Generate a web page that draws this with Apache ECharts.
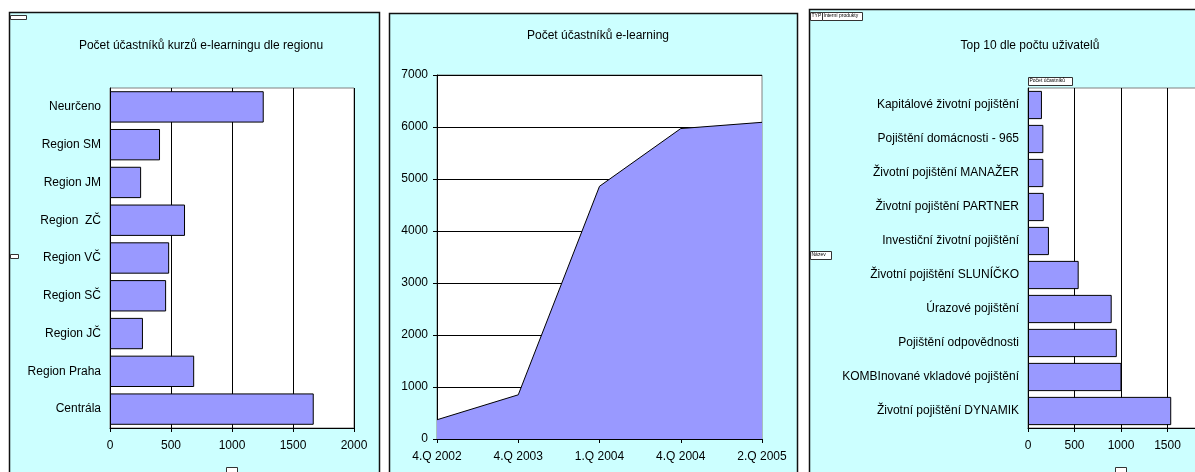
<!DOCTYPE html>
<html>
<head>
<meta charset="utf-8">
<script src="https://cdn.jsdelivr.net/npm/echarts@6/dist/echarts.min.js"></script>
<style>
  html, body { margin: 0; padding: 0; background: #ffffff; }
  #chart { width: 1195px; height: 472px; }
</style>
</head>
<body>
<div id="chart"></div>
<script>
// Participants of e-learning courses by region (top to bottom)
const regionCategories = ['Neurčeno', 'Region SM', 'Region JM', 'Region  ZČ', 'Region VČ', 'Region SČ', 'Region JČ', 'Region Praha', 'Centrála'];
const regionValues = [1260, 410, 255, 615, 485, 460, 270, 690, 1670];

// Cumulative e-learning participants per quarter
const quarterCategories = ['4.Q 2002', '4.Q 2003', '1.Q 2004', '4.Q 2004', '2.Q 2005'];
const quarterValues = [370, 850, 4860, 5970, 6090];

// Top 10 products by number of users (top to bottom)
const productCategories = [
  'Kapitálové životní pojištění',
  'Pojištění domácnosti - 965',
  'Životní pojištění MANAŽER',
  'Životní pojištění PARTNER',
  'Investiční životní pojištění',
  'Životní pojištění SLUNÍČKO',
  'Úrazové pojištění',
  'Pojištění odpovědnosti',
  'KOMBInované vkladové pojištění',
  'Životní pojištění DYNAMIK'
];
const productValues = [150, 165, 165, 170, 225, 545, 900, 955, 1005, 1540];

const FONT = "'Liberation Sans', Arial, sans-serif";
const BAR_FILL = '#9999FF';
const PANEL_FILL = '#CCFFFF';

const labelStyle = { color: '#000', fontFamily: FONT, fontSize: 12 };
const darkLine = { color: '#000', width: 1 };
const plainNumber = v => String(v);

function valueXAxis(gridIndex, max) {
  return {
    type: 'value', gridIndex, min: 0, max, interval: 500,
    axisLine: { show: true, lineStyle: darkLine },
    axisTick: { show: true, length: 4, inside: false, lineStyle: darkLine },
    splitLine: { show: true, lineStyle: { color: '#000', width: 1 } },
    axisLabel: Object.assign({ margin: 12, formatter: plainNumber }, labelStyle)
  };
}
function categoryYAxis(gridIndex, data) {
  return {
    type: 'category', gridIndex, data, inverse: true,
    axisLine: { show: true, lineStyle: darkLine },
    axisTick: { show: false },
    axisLabel: Object.assign({ margin: 9 }, labelStyle)
  };
}
function barSeries(axisIndex, data) {
  return {
    type: 'bar', xAxisIndex: axisIndex, yAxisIndex: axisIndex, data,
    barCategoryGap: '17%',
    itemStyle: { color: BAR_FILL, borderColor: '#000', borderWidth: 1 },
    silent: true
  };
}

// Small pivot-field buttons drawn on the panels
function fieldButton(x, y, w, h, text) {
  const children = [{
    type: 'rect', shape: { x: x + 0.5, y: y + 0.5, width: w, height: h },
    style: { fill: '#ffffff', stroke: '#333', lineWidth: 1 }
  }];
  if (text) {
    children.push({
      type: 'text', x: x + 1.5, y: y + 1.5,
      style: { text, fill: '#000', font: '5px ' + FONT, textVerticalAlign: 'top' }
    });
  }
  return { type: 'group', z: 50, children };
}

const gridBase = {
  show: true, backgroundColor: '#fff', borderColor: '#808080', borderWidth: 1,
  outerBoundsMode: 'none', containLabel: false
};

const option = {
  animation: false,
  backgroundColor: '#ffffff',
  textStyle: { fontFamily: FONT },
  title: [
    { text: 'Počet účastníků kurzů e-learningu dle regionu', left: 196, top: 35, textAlign: 'center',
      textStyle: { color: '#000', fontFamily: FONT, fontSize: 12, fontWeight: 'normal' } },
    { text: 'Počet účastníků e-learning', left: 593, top: 25, textAlign: 'center',
      textStyle: { color: '#000', fontFamily: FONT, fontSize: 12, fontWeight: 'normal' } },
    { text: 'Top 10 dle počtu uživatelů', left: 1025, top: 35, textAlign: 'center',
      textStyle: { color: '#000', fontFamily: FONT, fontSize: 12, fontWeight: 'normal' } }
  ],
  graphic: [
    // panel frames
    { type: 'rect', z: -10, shape: { x: 9.5, y: 12.5, width: 370, height: 480 },
      style: { fill: PANEL_FILL, stroke: '#111', lineWidth: 1.5 } },
    { type: 'rect', z: -10, shape: { x: 389.5, y: 13.5, width: 408, height: 480 },
      style: { fill: PANEL_FILL, stroke: '#111', lineWidth: 1.5 } },
    { type: 'rect', z: -10, shape: { x: 809.5, y: 9.5, width: 420, height: 480 },
      style: { fill: PANEL_FILL, stroke: '#111', lineWidth: 1.5 } },
    // field buttons
    fieldButton(10, 15, 16, 4, ''),
    fieldButton(10, 254, 8, 4, ''),
    fieldButton(226, 467, 11, 8, ''),
    fieldButton(810, 12, 12, 8, 'TYP'),
    fieldButton(822, 12, 40, 8, 'Interní produkty'),
    fieldButton(810, 251, 21, 8, 'Název'),
    fieldButton(1028, 77, 44, 8, 'Počet účastníků'),
    fieldButton(1115, 467, 11, 8, '')
  ],
  grid: [
    Object.assign({ left: 110, top: 88, width: 244, height: 340 }, gridBase),
    Object.assign({ left: 437, top: 75, width: 325, height: 364 }, gridBase),
    Object.assign({ left: 1028, top: 88, width: 186, height: 340 }, gridBase)
  ],
  xAxis: [
    valueXAxis(0, 2000),
    {
      type: 'category', gridIndex: 1, data: quarterCategories, boundaryGap: false,
      axisLine: { show: true, lineStyle: darkLine },
      axisTick: { show: true, length: 4, lineStyle: darkLine },
      splitLine: { show: false },
      axisLabel: Object.assign({ margin: 12, interval: 0 }, labelStyle)
    },
    valueXAxis(2, 2000)
  ],
  yAxis: [
    categoryYAxis(0, regionCategories),
    {
      type: 'value', gridIndex: 1, min: 0, max: 7000, interval: 1000,
      axisLine: { show: true, lineStyle: darkLine },
      axisTick: { show: true, length: 4, lineStyle: darkLine },
      splitLine: { show: true, lineStyle: { color: '#000', width: 1 } },
      axisLabel: Object.assign({ margin: 9, formatter: plainNumber }, labelStyle)
    },
    categoryYAxis(2, productCategories)
  ],
  series: [
    barSeries(0, regionValues),
    {
      type: 'line', xAxisIndex: 1, yAxisIndex: 1, data: quarterValues,
      symbol: 'none', silent: true,
      lineStyle: { color: '#000', width: 1 },
      areaStyle: { color: BAR_FILL, opacity: 1 }
    },
    barSeries(2, productValues)
  ]
};

const chart = echarts.init(document.getElementById('chart'), null, { renderer: 'canvas' });
chart.setOption(option);
</script>
</body>
</html>
